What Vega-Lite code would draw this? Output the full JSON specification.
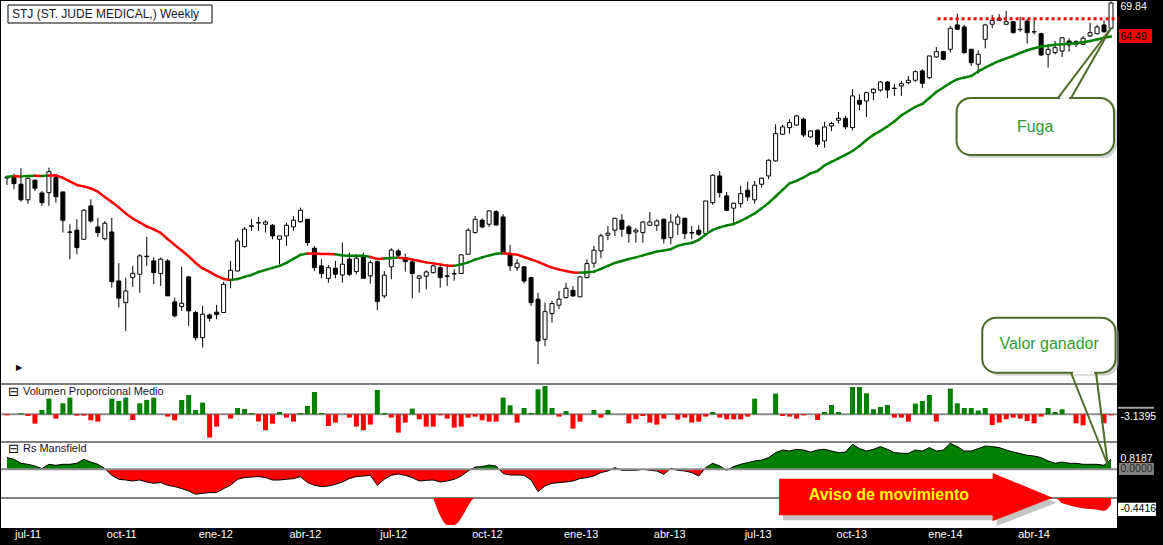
{
  "$schema": "https://vega.github.io/schema/vega-lite/v6.json",
  "background": "black",
  "padding": 0,
  "spacing": 0,
  "bounds": "flush",
  "config": {"view": {"fill": "white", "stroke": null}},
  "resolve": {"scale": {"x": "shared", "y": "independent"}},
  "datasets": {
    "w": [
      {"d":"2011-06-27","o":46.04,"h":46.16,"l":45.29,"c":46.16,"ma":46.19,"t":"g","v":-0.1,"rs":1.17},
      {"d":"2011-07-04","o":46.08,"h":46.52,"l":44.82,"c":45.43,"ma":46.24,"t":"r","v":0,"rs":1.0},
      {"d":"2011-07-11","o":45.36,"h":47.14,"l":43.52,"c":43.71,"ma":46.22,"t":"g","v":0.1,"rs":0.6},
      {"d":"2011-07-18","o":43.71,"h":46.08,"l":43.31,"c":46.02,"ma":46.27,"t":"g","v":-0.17,"rs":0.5},
      {"d":"2011-07-25","o":45.80,"h":45.91,"l":44.64,"c":44.93,"ma":46.30,"t":"r","v":-0.93,"rs":0.33},
      {"d":"2011-08-01","o":44.43,"h":44.64,"l":43.08,"c":43.42,"ma":46.27,"t":"g","v":0.43,"rs":0.07},
      {"d":"2011-08-08","o":44.46,"h":47.19,"l":43.08,"c":46.74,"ma":46.33,"t":"r","v":1.57,"rs":0.5},
      {"d":"2011-08-15","o":46.08,"h":46.27,"l":43.42,"c":44.04,"ma":46.33,"t":"r","v":-0.43,"rs":0.4},
      {"d":"2011-08-22","o":44.54,"h":44.54,"l":40.43,"c":41.63,"ma":46.05,"t":"r","v":1.1,"rs":0.5},
      {"d":"2011-08-29","o":40.49,"h":41.24,"l":37.95,"c":40.45,"ma":45.67,"t":"r","v":1.67,"rs":0.5},
      {"d":"2011-09-05","o":40.66,"h":41.73,"l":38.40,"c":39.01,"ma":45.29,"t":"r","v":-0.13,"rs":0.6},
      {"d":"2011-09-12","o":39.79,"h":42.74,"l":39.79,"c":42.64,"ma":45.13,"t":"r","v":-0.13,"rs":1.0},
      {"d":"2011-09-19","o":43.08,"h":43.77,"l":41.40,"c":41.56,"ma":44.91,"t":"r","v":-0.6,"rs":0.73},
      {"d":"2011-09-26","o":40.98,"h":41.89,"l":40.01,"c":40.43,"ma":44.57,"t":"r","v":-0.73,"rs":0.5},
      {"d":"2011-10-03","o":39.85,"h":41.56,"l":39.70,"c":41.34,"ma":44.01,"t":"r","v":0,"rs":0.07},
      {"d":"2011-10-10","o":40.49,"h":41.89,"l":35.46,"c":35.97,"ma":43.49,"t":"r","v":1.57,"rs":-0.6},
      {"d":"2011-10-17","o":36.03,"h":37.59,"l":33.82,"c":34.58,"ma":42.93,"t":"r","v":1.33,"rs":-1.0},
      {"d":"2011-10-24","o":34.22,"h":36.32,"l":31.99,"c":35.18,"ma":42.32,"t":"r","v":1.67,"rs":-1.07},
      {"d":"2011-10-31","o":36.32,"h":37.35,"l":35.52,"c":36.70,"ma":41.81,"t":"r","v":-0.57,"rs":-1.17},
      {"d":"2011-11-07","o":36.61,"h":38.40,"l":35.04,"c":38.25,"ma":41.41,"t":"r","v":1.1,"rs":-1.07},
      {"d":"2011-11-14","o":38.22,"h":40.01,"l":37.35,"c":38.18,"ma":41.03,"t":"r","v":1.43,"rs":-1.27},
      {"d":"2011-11-21","o":37.79,"h":38.09,"l":35.75,"c":36.75,"ma":40.73,"t":"r","v":1.67,"rs":-1.4},
      {"d":"2011-11-28","o":36.67,"h":38.09,"l":35.61,"c":37.95,"ma":40.40,"t":"r","v":0,"rs":-1.33},
      {"d":"2011-12-05","o":37.79,"h":37.95,"l":34.77,"c":34.77,"ma":39.82,"t":"r","v":-0.23,"rs":-1.6},
      {"d":"2011-12-12","o":34.28,"h":34.63,"l":33.02,"c":33.16,"ma":39.26,"t":"r","v":-0.6,"rs":-1.73},
      {"d":"2011-12-19","o":33.90,"h":37.26,"l":33.55,"c":34.17,"ma":38.74,"t":"r","v":1.43,"rs":-1.93},
      {"d":"2011-12-26","o":36.38,"h":36.47,"l":32.38,"c":33.55,"ma":38.20,"t":"r","v":1.93,"rs":-2.17},
      {"d":"2012-01-02","o":33.42,"h":33.55,"l":31.28,"c":31.48,"ma":37.61,"t":"r","v":0.43,"rs":-2.5},
      {"d":"2012-01-09","o":31.48,"h":33.96,"l":30.74,"c":33.29,"ma":37.12,"t":"r","v":1.17,"rs":-2.4},
      {"d":"2012-01-16","o":33.23,"h":33.34,"l":32.71,"c":32.97,"ma":36.81,"t":"r","v":-2.33,"rs":-2.33},
      {"d":"2012-01-23","o":33.45,"h":34.04,"l":32.89,"c":33.26,"ma":36.47,"t":"r","v":-1.23,"rs":-2.33},
      {"d":"2012-01-30","o":33.42,"h":35.95,"l":33.42,"c":35.75,"ma":36.20,"t":"r","v":0,"rs":-1.93},
      {"d":"2012-02-06","o":36.09,"h":37.79,"l":35.41,"c":36.96,"ma":36.12,"t":"g","v":-0.43,"rs":-1.6},
      {"d":"2012-02-13","o":36.90,"h":39.89,"l":36.84,"c":39.63,"ma":36.20,"t":"g","v":0.63,"rs":-1.0},
      {"d":"2012-02-20","o":39.10,"h":40.98,"l":39.01,"c":40.76,"ma":36.38,"t":"g","v":0.53,"rs":-0.83},
      {"d":"2012-02-27","o":41.08,"h":41.73,"l":40.59,"c":41.04,"ma":36.55,"t":"g","v":0.13,"rs":-0.77},
      {"d":"2012-03-05","o":41.40,"h":41.96,"l":40.59,"c":41.36,"ma":36.81,"t":"g","v":-0.73,"rs":-0.73},
      {"d":"2012-03-12","o":41.24,"h":41.64,"l":40.43,"c":41.46,"ma":36.99,"t":"g","v":-1.6,"rs":-0.83},
      {"d":"2012-03-19","o":41.14,"h":41.24,"l":39.79,"c":40.11,"ma":37.17,"t":"g","v":-0.93,"rs":-1.07},
      {"d":"2012-03-26","o":39.79,"h":40.11,"l":37.50,"c":40.11,"ma":37.35,"t":"g","v":0.23,"rs":-1.07},
      {"d":"2012-04-02","o":40.11,"h":41.40,"l":39.17,"c":41.14,"ma":37.61,"t":"g","v":-0.33,"rs":-1.0},
      {"d":"2012-04-09","o":40.98,"h":42.06,"l":40.59,"c":41.64,"ma":37.97,"t":"g","v":-0.73,"rs":-0.93},
      {"d":"2012-04-16","o":41.49,"h":42.91,"l":41.40,"c":42.64,"ma":38.34,"t":"g","v":0.13,"rs":-0.73},
      {"d":"2012-04-23","o":41.73,"h":41.73,"l":39.17,"c":39.47,"ma":38.47,"t":"r","v":0.83,"rs":-1.33},
      {"d":"2012-04-30","o":38.95,"h":39.17,"l":36.90,"c":37.19,"ma":38.47,"t":"r","v":2.23,"rs":-1.6},
      {"d":"2012-05-07","o":37.35,"h":37.95,"l":36.26,"c":36.67,"ma":38.43,"t":"r","v":0.13,"rs":-1.73},
      {"d":"2012-05-14","o":36.26,"h":37.43,"l":35.89,"c":37.19,"ma":38.43,"t":"r","v":-1.17,"rs":-1.67},
      {"d":"2012-05-21","o":37.14,"h":37.79,"l":36.26,"c":36.61,"ma":38.40,"t":"g","v":-0.83,"rs":-1.5},
      {"d":"2012-05-28","o":36.55,"h":39.47,"l":35.89,"c":37.50,"ma":38.29,"t":"g","v":0,"rs":-1.27},
      {"d":"2012-06-04","o":37.95,"h":38.55,"l":36.47,"c":36.61,"ma":38.27,"t":"g","v":-0.33,"rs":-0.93},
      {"d":"2012-06-11","o":36.84,"h":38.40,"l":36.61,"c":38.04,"ma":38.27,"t":"g","v":-1.23,"rs":-0.73},
      {"d":"2012-06-18","o":38.25,"h":38.55,"l":36.26,"c":36.26,"ma":38.27,"t":"g","v":-1.6,"rs":-0.67},
      {"d":"2012-06-25","o":36.47,"h":37.85,"l":35.80,"c":37.64,"ma":38.15,"t":"r","v":-1.03,"rs":-0.6},
      {"d":"2012-07-02","o":37.73,"h":37.79,"l":33.61,"c":34.30,"ma":37.97,"t":"r","v":2.43,"rs":-1.6},
      {"d":"2012-07-09","o":34.77,"h":36.90,"l":34.58,"c":36.53,"ma":38.02,"t":"g","v":0.13,"rs":-1.0},
      {"d":"2012-07-16","o":37.26,"h":38.95,"l":36.18,"c":38.77,"ma":38.06,"t":"g","v":-0.33,"rs":-0.6},
      {"d":"2012-07-23","o":38.70,"h":38.86,"l":38.15,"c":38.31,"ma":38.09,"t":"r","v":-1.83,"rs":-0.47},
      {"d":"2012-07-30","o":38.09,"h":38.45,"l":36.84,"c":37.73,"ma":38.00,"t":"r","v":-0.83,"rs":-0.6},
      {"d":"2012-08-06","o":37.70,"h":37.79,"l":34.58,"c":36.67,"ma":37.91,"t":"r","v":0.57,"rs":-0.83},
      {"d":"2012-08-13","o":36.26,"h":36.53,"l":35.04,"c":36.47,"ma":37.79,"t":"r","v":-0.5,"rs":-1.17},
      {"d":"2012-08-20","o":36.44,"h":36.96,"l":35.32,"c":36.81,"ma":37.66,"t":"r","v":-1.23,"rs":-1.1},
      {"d":"2012-08-27","o":36.75,"h":37.43,"l":36.67,"c":37.35,"ma":37.57,"t":"r","v":-1.23,"rs":-1.07,"r2":0},
      {"d":"2012-09-03","o":37.19,"h":37.43,"l":35.46,"c":36.32,"ma":37.48,"t":"r","v":-0.1,"rs":-1.27,"r2":-1.77},
      {"d":"2012-09-10","o":36.47,"h":37.35,"l":35.61,"c":36.43,"ma":37.37,"t":"r","v":-0.43,"rs":-1.17,"r2":-2.7},
      {"d":"2012-09-17","o":36.67,"h":37.05,"l":36.05,"c":36.63,"ma":37.35,"t":"g","v":-1.33,"rs":-1.0,"r2":-2.7},
      {"d":"2012-09-24","o":36.67,"h":38.40,"l":36.67,"c":38.34,"ma":37.48,"t":"g","v":-1.23,"rs":-0.67,"r2":-2.03},
      {"d":"2012-10-01","o":38.40,"h":40.85,"l":38.40,"c":40.66,"ma":37.66,"t":"g","v":-0.33,"rs":-0.17,"r2":-0.77},
      {"d":"2012-10-08","o":40.43,"h":42.06,"l":40.33,"c":41.73,"ma":37.91,"t":"g","v":-0.23,"rs":0.23,"r2":0},
      {"d":"2012-10-15","o":41.64,"h":41.83,"l":40.85,"c":40.98,"ma":38.11,"t":"g","v":-0.6,"rs":0.27},
      {"d":"2012-10-22","o":41.24,"h":42.64,"l":40.98,"c":42.57,"ma":38.29,"t":"g","v":-0.73,"rs":0.43},
      {"d":"2012-10-29","o":42.50,"h":42.64,"l":41.08,"c":41.17,"ma":38.45,"t":"g","v":-0.73,"rs":0.33},
      {"d":"2012-11-05","o":41.96,"h":42.24,"l":38.40,"c":38.45,"ma":38.49,"t":"r","v":1.67,"rs":-0.43},
      {"d":"2012-11-12","o":38.45,"h":39.26,"l":36.90,"c":37.35,"ma":38.43,"t":"r","v":0.9,"rs":-0.57},
      {"d":"2012-11-19","o":37.19,"h":37.95,"l":36.90,"c":37.59,"ma":38.36,"t":"r","v":-0.83,"rs":-0.57},
      {"d":"2012-11-26","o":37.26,"h":37.35,"l":35.80,"c":36.03,"ma":38.15,"t":"r","v":0.63,"rs":-0.6},
      {"d":"2012-12-03","o":36.32,"h":36.38,"l":33.96,"c":34.22,"ma":37.93,"t":"r","v":0.13,"rs":-1.07},
      {"d":"2012-12-10","o":34.50,"h":35.04,"l":29.55,"c":31.23,"ma":37.70,"t":"r","v":2.5,"rs":-2.23},
      {"d":"2012-12-17","o":31.36,"h":34.22,"l":30.86,"c":33.49,"ma":37.43,"t":"r","v":2.83,"rs":-1.67},
      {"d":"2012-12-24","o":33.34,"h":34.36,"l":32.63,"c":34.14,"ma":37.19,"t":"r","v":0.63,"rs":-1.4},
      {"d":"2012-12-31","o":34.01,"h":35.18,"l":33.69,"c":34.50,"ma":37.03,"t":"r","v":-0.23,"rs":-1.33},
      {"d":"2013-01-07","o":34.63,"h":35.89,"l":34.58,"c":35.41,"ma":36.90,"t":"r","v":0.33,"rs":-1.27},
      {"d":"2013-01-14","o":35.23,"h":35.61,"l":34.69,"c":34.77,"ma":36.77,"t":"r","v":-1.43,"rs":-1.17},
      {"d":"2013-01-21","o":34.69,"h":36.47,"l":34.69,"c":36.38,"ma":36.75,"t":"g","v":-0.73,"rs":-0.93},
      {"d":"2013-01-28","o":36.32,"h":37.95,"l":36.26,"c":37.55,"ma":36.79,"t":"g","v":0,"rs":-0.83},
      {"d":"2013-02-04","o":37.59,"h":39.17,"l":37.19,"c":38.77,"ma":36.84,"t":"g","v":0.43,"rs":-0.67},
      {"d":"2013-02-11","o":38.70,"h":40.33,"l":38.04,"c":40.11,"ma":37.08,"t":"g","v":-0.33,"rs":-0.33},
      {"d":"2013-02-18","o":40.18,"h":41.08,"l":39.70,"c":40.37,"ma":37.35,"t":"g","v":0.43,"rs":-0.17},
      {"d":"2013-02-25","o":40.66,"h":41.89,"l":40.11,"c":41.83,"ma":37.61,"t":"g","v":0,"rs":0.17},
      {"d":"2013-03-04","o":41.64,"h":42.24,"l":40.01,"c":40.76,"ma":37.79,"t":"g","v":0,"rs":-0.1},
      {"d":"2013-03-11","o":40.98,"h":41.17,"l":39.47,"c":40.33,"ma":37.97,"t":"g","v":-0.9,"rs":-0.1},
      {"d":"2013-03-18","o":40.49,"h":40.85,"l":39.47,"c":40.66,"ma":38.11,"t":"g","v":-0.5,"rs":-0.1},
      {"d":"2013-03-25","o":40.43,"h":41.56,"l":39.47,"c":41.46,"ma":38.29,"t":"g","v":-0.17,"rs":0},
      {"d":"2013-04-01","o":41.14,"h":42.47,"l":41.08,"c":41.46,"ma":38.47,"t":"g","v":-0.83,"rs":-0.1},
      {"d":"2013-04-08","o":41.14,"h":41.73,"l":40.59,"c":41.56,"ma":38.65,"t":"g","v":-1.03,"rs":-0.17},
      {"d":"2013-04-15","o":41.73,"h":41.79,"l":39.38,"c":39.85,"ma":38.74,"t":"g","v":-0.43,"rs":-0.5},
      {"d":"2013-04-22","o":39.95,"h":42.24,"l":39.32,"c":41.46,"ma":38.86,"t":"g","v":0,"rs":0.1},
      {"d":"2013-04-29","o":41.24,"h":42.24,"l":40.21,"c":41.96,"ma":39.17,"t":"g","v":-0.53,"rs":-0.1},
      {"d":"2013-05-06","o":41.83,"h":41.89,"l":39.79,"c":40.33,"ma":39.35,"t":"g","v":-0.33,"rs":-0.17},
      {"d":"2013-05-13","o":40.43,"h":41.08,"l":39.79,"c":40.39,"ma":39.44,"t":"g","v":-0.83,"rs":-0.33},
      {"d":"2013-05-20","o":40.66,"h":41.14,"l":40.11,"c":40.27,"ma":39.73,"t":"g","v":-0.73,"rs":-0.67},
      {"d":"2013-05-27","o":40.33,"h":43.59,"l":40.33,"c":43.59,"ma":40.25,"t":"g","v":-0.23,"rs":0.17},
      {"d":"2013-06-03","o":43.42,"h":46.46,"l":43.18,"c":46.35,"ma":40.69,"t":"g","v":0.23,"rs":0.6},
      {"d":"2013-06-10","o":46.27,"h":46.82,"l":43.94,"c":44.46,"ma":40.93,"t":"g","v":-0.33,"rs":0.33},
      {"d":"2013-06-17","o":44.12,"h":44.54,"l":42.57,"c":42.64,"ma":41.12,"t":"g","v":-0.5,"rs":-0.1},
      {"d":"2013-06-24","o":42.85,"h":43.42,"l":41.24,"c":43.36,"ma":41.27,"t":"g","v":-0.5,"rs":0.27},
      {"d":"2013-07-01","o":43.31,"h":45.18,"l":42.91,"c":44.36,"ma":41.56,"t":"g","v":-0.5,"rs":0.5},
      {"d":"2013-07-08","o":44.72,"h":45.64,"l":43.59,"c":44.01,"ma":41.92,"t":"g","v":-0.23,"rs":0.67},
      {"d":"2013-07-15","o":43.71,"h":45.72,"l":43.31,"c":45.26,"ma":42.32,"t":"g","v":1.57,"rs":0.83},
      {"d":"2013-07-22","o":45.36,"h":46.08,"l":44.99,"c":46.02,"ma":42.83,"t":"g","v":0,"rs":0.93},
      {"d":"2013-07-29","o":46.27,"h":48.15,"l":45.91,"c":48.03,"ma":43.39,"t":"g","v":0,"rs":1.17},
      {"d":"2013-08-05","o":47.95,"h":52.33,"l":47.87,"c":51.17,"ma":44.06,"t":"g","v":2.07,"rs":1.67},
      {"d":"2013-08-12","o":51.10,"h":52.24,"l":51.02,"c":52.00,"ma":44.75,"t":"g","v":-0.17,"rs":1.93},
      {"d":"2013-08-19","o":51.91,"h":52.96,"l":51.17,"c":52.53,"ma":45.45,"t":"g","v":-0.23,"rs":1.83},
      {"d":"2013-08-26","o":52.24,"h":53.50,"l":52.12,"c":53.38,"ma":45.72,"t":"g","v":-0.43,"rs":2.0},
      {"d":"2013-09-02","o":52.96,"h":53.16,"l":50.77,"c":51.02,"ma":46.10,"t":"g","v":-0.1,"rs":1.93},
      {"d":"2013-09-09","o":50.77,"h":51.59,"l":50.69,"c":51.50,"ma":46.55,"t":"g","v":0,"rs":1.73},
      {"d":"2013-09-16","o":51.59,"h":51.71,"l":49.58,"c":49.90,"ma":46.82,"t":"g","v":-0.57,"rs":1.93},
      {"d":"2013-09-23","o":50.29,"h":52.62,"l":49.49,"c":52.00,"ma":47.44,"t":"g","v":0.23,"rs":2.0},
      {"d":"2013-09-30","o":52.12,"h":52.62,"l":51.50,"c":52.41,"ma":47.84,"t":"g","v":0.93,"rs":1.83},
      {"d":"2013-10-07","o":52.83,"h":53.88,"l":52.41,"c":53.08,"ma":48.24,"t":"g","v":0.23,"rs":1.67},
      {"d":"2013-10-14","o":53.08,"h":53.38,"l":51.71,"c":52.00,"ma":48.64,"t":"g","v":0,"rs":1.73},
      {"d":"2013-10-21","o":51.91,"h":56.87,"l":51.59,"c":55.98,"ma":49.10,"t":"g","v":2.73,"rs":2.5},
      {"d":"2013-10-28","o":55.40,"h":56.20,"l":54.10,"c":54.88,"ma":49.69,"t":"g","v":2.73,"rs":2.07},
      {"d":"2013-11-04","o":55.31,"h":56.55,"l":53.25,"c":56.41,"ma":50.41,"t":"g","v":2.1,"rs":1.83},
      {"d":"2013-11-11","o":56.41,"h":57.02,"l":55.40,"c":56.88,"ma":51.02,"t":"g","v":0.5,"rs":2.0},
      {"d":"2013-11-18","o":56.77,"h":58.01,"l":56.55,"c":57.87,"ma":51.50,"t":"g","v":0.73,"rs":2.27},
      {"d":"2013-11-25","o":57.87,"h":58.01,"l":55.67,"c":56.77,"ma":52.06,"t":"g","v":0.93,"rs":2.0},
      {"d":"2013-12-02","o":57.02,"h":57.56,"l":55.98,"c":56.98,"ma":52.68,"t":"g","v":-0.33,"rs":1.67},
      {"d":"2013-12-09","o":57.33,"h":58.01,"l":55.98,"c":57.64,"ma":53.44,"t":"g","v":-0.33,"rs":1.6},
      {"d":"2013-12-16","o":57.78,"h":58.71,"l":57.56,"c":58.11,"ma":54.01,"t":"g","v":-0.73,"rs":1.6},
      {"d":"2013-12-23","o":58.11,"h":59.51,"l":57.91,"c":59.31,"ma":54.53,"t":"g","v":1.07,"rs":1.93},
      {"d":"2013-12-30","o":59.41,"h":59.65,"l":57.02,"c":57.69,"ma":54.92,"t":"g","v":1.33,"rs":1.83},
      {"d":"2014-01-06","o":58.47,"h":61.57,"l":58.25,"c":61.57,"ma":55.71,"t":"g","v":1.93,"rs":2.17},
      {"d":"2014-01-13","o":61.42,"h":62.90,"l":61.32,"c":62.20,"ma":56.50,"t":"g","v":-0.73,"rs":1.83},
      {"d":"2014-01-20","o":62.20,"h":62.30,"l":60.94,"c":61.09,"ma":57.12,"t":"g","v":0,"rs":1.93},
      {"d":"2014-01-27","o":62.56,"h":66.13,"l":62.05,"c":65.77,"ma":57.74,"t":"g","v":2.57,"rs":2.6},
      {"d":"2014-02-03","o":66.29,"h":68.10,"l":65.61,"c":65.61,"ma":58.25,"t":"g","v":1.1,"rs":2.27},
      {"d":"2014-02-10","o":65.97,"h":66.29,"l":61.91,"c":62.05,"ma":58.47,"t":"g","v":0.63,"rs":1.83},
      {"d":"2014-02-17","o":62.56,"h":62.56,"l":60.13,"c":60.60,"ma":58.71,"t":"g","v":0.63,"rs":1.83},
      {"d":"2014-02-24","o":60.37,"h":62.41,"l":59.03,"c":61.82,"ma":59.34,"t":"g","v":0.37,"rs":2.07},
      {"d":"2014-03-03","o":64.06,"h":66.49,"l":62.70,"c":66.29,"ma":59.88,"t":"g","v":0.63,"rs":2.33},
      {"d":"2014-03-10","o":66.40,"h":67.89,"l":65.77,"c":67.03,"ma":60.37,"t":"g","v":-1.07,"rs":2.27},
      {"d":"2014-03-17","o":67.03,"h":68.00,"l":66.92,"c":67.35,"ma":60.84,"t":"g","v":-0.83,"rs":2.17},
      {"d":"2014-03-24","o":66.40,"h":68.53,"l":66.29,"c":66.81,"ma":61.21,"t":"g","v":-0.5,"rs":1.93},
      {"d":"2014-03-31","o":66.81,"h":66.92,"l":64.92,"c":65.08,"ma":61.57,"t":"g","v":-0.33,"rs":1.73},
      {"d":"2014-04-07","o":65.61,"h":67.56,"l":65.23,"c":65.57,"ma":62.01,"t":"g","v":-0.43,"rs":1.57},
      {"d":"2014-04-14","o":66.92,"h":67.21,"l":63.40,"c":65.08,"ma":62.41,"t":"g","v":-0.67,"rs":1.4},
      {"d":"2014-04-21","o":65.23,"h":67.46,"l":64.83,"c":65.19,"ma":62.71,"t":"g","v":-0.9,"rs":1.33},
      {"d":"2014-04-28","o":64.92,"h":65.08,"l":61.57,"c":61.72,"ma":62.98,"t":"g","v":-0.23,"rs":1.17},
      {"d":"2014-05-05","o":61.82,"h":62.90,"l":59.88,"c":62.56,"ma":63.10,"t":"g","v":0.63,"rs":0.83},
      {"d":"2014-05-12","o":62.05,"h":63.80,"l":61.82,"c":62.80,"ma":63.23,"t":"g","v":0.23,"rs":0.6,"r2":0},
      {"d":"2014-05-19","o":62.30,"h":64.42,"l":61.42,"c":64.31,"ma":63.32,"t":"g","v":0.5,"rs":0.73,"r2":-0.5},
      {"d":"2014-05-26","o":63.80,"h":64.22,"l":62.20,"c":63.20,"ma":63.40,"t":"g","v":0,"rs":0.6,"r2":-0.73},
      {"d":"2014-06-02","o":63.31,"h":63.91,"l":62.90,"c":63.70,"ma":63.46,"t":"g","v":-0.9,"rs":0.6,"r2":-0.9},
      {"d":"2014-06-09","o":63.31,"h":64.57,"l":63.20,"c":64.22,"ma":63.61,"t":"g","v":-1.1,"rs":0.5,"r2":-1.03},
      {"d":"2014-06-16","o":64.57,"h":66.65,"l":64.42,"c":65.08,"ma":63.80,"t":"g","v":0,"rs":0.5,"r2":-1.1},
      {"d":"2014-06-23","o":64.92,"h":66.29,"l":64.83,"c":65.97,"ma":64.03,"t":"g","v":0,"rs":0.5,"r2":-1.17},
      {"d":"2014-06-30","o":66.29,"h":67.03,"l":65.08,"c":65.23,"ma":64.29,"t":"g","v":-0.9,"rs":0.4,"r2":-1.27},
      {"d":"2014-07-07","o":65.77,"h":70.1,"l":65.61,"c":69.84,"ma":64.49,"t":"g","v":-0.1,"rs":1.0,"r2":-0.67}
    ]
  },
  "data": {"name": "w"},
  "vconcat": [
    {
      "width": 1116,
      "height": 383,
      "layer": [
        {
          "data": {"values": [{"a": "2014-07-13", "b": "2014-08-29", "p": 28.19, "q": 70.18}]},
          "mark": {"type": "rect", "color": "black"},
          "encoding": {
            "x": {"field": "a", "type": "temporal", "axis": null,
                  "scale": {"type": "utc", "nice": false, "padding": 0, "domain": [{"year": 2011, "month": 6, "date": 21, "utc": true}, {"year": 2014, "month": 7, "date": 13, "utc": true}]}},
            "x2": {"field": "b"},
            "y": {"field": "p", "type": "quantitative", "axis": null, "scale": {"type": "log", "domain": [28.19, 70.18], "nice": false, "zero": false}},
            "y2": {"field": "q"}
          }
        },
        {
          "data": {"values": [{"a": "2011-06-28", "b": "2012-01-18T10:00:00Z", "p": 66.6, "q": 69.51}]},
          "mark": {"type": "rect", "fill": "white", "stroke": "black", "strokeWidth": 1},
          "encoding": {
            "x": {"field": "a", "type": "temporal", "axis": null}, "x2": {"field": "b"},
            "y": {"field": "p", "type": "quantitative", "axis": null}, "y2": {"field": "q"}
          }
        },
        {
          "data": {"values": [{"a": "2011-07-02", "p": 68.04, "s": "STJ (ST. JUDE MEDICAL,) Weekly"}]},
          "mark": {"type": "text", "align": "left", "baseline": "middle", "font": "Liberation Sans", "fontSize": 12, "color": "#141428"},
          "encoding": {
            "x": {"field": "a", "type": "temporal", "axis": null},
            "y": {"field": "p", "type": "quantitative", "axis": null},
            "text": {"field": "s"}
          }
        },
        {
          "mark": {"type": "rule", "color": "black", "strokeWidth": 1},
          "encoding": {
            "x": {"field": "d", "type": "temporal", "axis": null},
            "y": {"field": "l", "type": "quantitative", "axis": null},
            "y2": {"field": "h"}
          }
        },
        {
          "mark": {"type": "bar", "width": 4, "stroke": "black", "strokeWidth": 1},
          "encoding": {
            "x": {"field": "d", "type": "temporal", "axis": null},
            "y": {"field": "o", "type": "quantitative", "axis": null},
            "y2": {"field": "c"},
            "fill": {"condition": {"test": "datum.c >= datum.o", "value": "white"}, "value": "black"}
          }
        },
        {
          "transform": [
            {"window": [{"op": "lead", "field": "ma", "as": "ma2"}, {"op": "lead", "field": "d", "as": "d2"}], "sort": [{"field": "d", "order": "ascending"}]},
            {"filter": "datum.ma2 != null"}
          ],
          "mark": {"type": "rule", "strokeWidth": 2.5, "strokeCap": "round"},
          "encoding": {
            "x": {"field": "d", "type": "temporal", "axis": null},
            "x2": {"field": "d2"},
            "y": {"field": "ma", "type": "quantitative", "axis": null},
            "y2": {"field": "ma2"},
            "color": {"condition": {"test": "datum.t == 'r'", "value": "#ff0000"}, "value": "#008000"}
          }
        },
        {
          "data": {"values": [{"a": "2014-01-14T07:00:00Z", "b": "2014-07-14T12:00:00Z", "p": 67.28}]},
          "mark": {"type": "rule", "color": "#ff0000", "strokeWidth": 3, "strokeDash": [3, 3]},
          "encoding": {
            "x": {"field": "a", "type": "temporal", "axis": null}, "x2": {"field": "b"},
            "y": {"field": "p", "type": "quantitative", "axis": null}
          }
        },
        {
          "data": {"values": [{"a": "2014-02-05T07:00:00Z", "b": "2014-07-13", "p": 48.29, "q": 55.31}]},
          "mark": {"type": "rect", "fill": "#a8a8a8", "opacity": 0.5, "cornerRadius": 14},
          "encoding": {
            "x": {"field": "a", "type": "temporal", "axis": null}, "x2": {"field": "b"},
            "y": {"field": "p", "type": "quantitative", "axis": null}, "y2": {"field": "q"}
          }
        },
        {
          "data": {"values": [{"a": "2014-02-02T07:00:00Z", "b": "2014-07-10", "p": 48.64, "q": 55.71}]},
          "mark": {"type": "rect", "fill": "white", "stroke": "#4f6b28", "strokeWidth": 2, "cornerRadius": 14},
          "encoding": {
            "x": {"field": "a", "type": "temporal", "axis": null}, "x2": {"field": "b"},
            "y": {"field": "p", "type": "quantitative", "axis": null}, "y2": {"field": "q"}
          }
        },
        {
          "data": {"values": [{"a": "2014-05-17", "b": "2014-05-26", "p": 55.71}]},
          "mark": {"type": "rule", "color": "white", "strokeWidth": 3},
          "encoding": {
            "x": {"field": "a", "type": "temporal", "axis": null}, "x2": {"field": "b"},
            "y": {"field": "p", "type": "quantitative", "axis": null}
          }
        },
        {
          "data": {"values": [
            {"a": "2014-05-15", "b": "2014-07-07", "p": 55.71, "q": 65.81},
            {"a": "2014-05-28", "b": "2014-07-07", "p": 55.71, "q": 65.81}
          ]},
          "mark": {"type": "rule", "color": "#4f6b28", "strokeWidth": 2},
          "encoding": {
            "x": {"field": "a", "type": "temporal", "axis": null}, "x2": {"field": "b"},
            "y": {"field": "p", "type": "quantitative", "axis": null}, "y2": {"field": "q"}
          }
        },
        {
          "data": {"values": [{"a": "2014-04-22", "p": 51.99, "s": "Fuga"}]},
          "mark": {"type": "text", "align": "center", "baseline": "middle", "font": "Liberation Sans", "fontSize": 16, "color": "#339933"},
          "encoding": {
            "x": {"field": "a", "type": "temporal", "axis": null},
            "y": {"field": "p", "type": "quantitative", "axis": null},
            "text": {"field": "s"}
          }
        },
        {
          "data": {"values": [{"a": "2014-07-15", "b": "2014-08-17", "p": 63.5, "q": 65.65}]},
          "mark": {"type": "rect", "fill": "#ff0000"},
          "encoding": {
            "x": {"field": "a", "type": "temporal", "axis": null}, "x2": {"field": "b"},
            "y": {"field": "p", "type": "quantitative", "axis": null}, "y2": {"field": "q"}
          }
        },
        {
          "data": {"values": [{"a": "2014-07-16T12:00:00Z", "p": 64.49, "s": "64.49"}]},
          "mark": {"type": "text", "align": "left", "baseline": "middle", "font": "Liberation Sans", "fontSize": 10.5, "color": "black"},
          "encoding": {
            "x": {"field": "a", "type": "temporal", "axis": null},
            "y": {"field": "p", "type": "quantitative", "axis": null},
            "text": {"field": "s"}
          }
        },
        {
          "data": {"values": [{"a": "2014-07-16T12:00:00Z", "p": 69.84, "s": "69.84"}]},
          "mark": {"type": "text", "align": "left", "baseline": "top", "dy": -1, "font": "Liberation Sans", "fontSize": 10.5, "color": "white"},
          "encoding": {
            "x": {"field": "a", "type": "temporal", "axis": null},
            "y": {"field": "p", "type": "quantitative", "axis": null},
            "text": {"field": "s"}
          }
        },
        {
          "data": {"values": [{"a": "2011-07-09", "p": 29.29, "s": "▶"}]},
          "mark": {"type": "text", "align": "center", "baseline": "middle", "font": "DejaVu Sans", "fontSize": 8, "color": "black"},
          "encoding": {
            "x": {"field": "a", "type": "temporal", "axis": null},
            "y": {"field": "p", "type": "quantitative", "axis": null},
            "text": {"field": "s"}
          }
        }
      ]
    },
    {
      "width": 1116,
      "height": 58,
      "layer": [
        {
          "data": {"values": [{}]},
          "mark": {"type": "rule", "color": "black", "strokeWidth": 1},
          "encoding": {"y": {"datum": 3.03, "type": "quantitative", "axis": null, "scale": {"domain": [-2.77, 3.03], "nice": false, "zero": false}}}
        },
        {
          "data": {"values": [{}]},
          "mark": {"type": "rule", "color": "#8c8c8c", "strokeWidth": 2},
          "encoding": {"y": {"datum": 0, "type": "quantitative", "axis": null}}
        },
        {
          "mark": {"type": "bar", "width": 5},
          "encoding": {
            "x": {"field": "d", "type": "temporal", "axis": null},
            "y": {"field": "v", "type": "quantitative", "axis": null},
            "y2": {"datum": 0},
            "color": {"condition": {"test": "datum.v < 0", "value": "#ff0000"}, "value": "#008000"}
          }
        },
        {
          "data": {"values": [{"a": "2011-07-03T12:00:00Z", "p": 2.23, "s": "⊟"}]},
          "mark": {"type": "text", "align": "center", "baseline": "middle", "font": "DejaVu Sans", "fontSize": 13, "color": "black"},
          "encoding": {
            "x": {"field": "a", "type": "temporal", "axis": null},
            "y": {"field": "p", "type": "quantitative", "axis": null},
            "text": {"field": "s"}
          }
        },
        {
          "data": {"values": [{"a": "2011-07-13", "p": 2.23, "s": "Volumen Proporcional Medio"}]},
          "mark": {"type": "text", "align": "left", "baseline": "middle", "font": "Liberation Sans", "fontSize": 11, "color": "#141428"},
          "encoding": {
            "x": {"field": "a", "type": "temporal", "axis": null},
            "y": {"field": "p", "type": "quantitative", "axis": null},
            "text": {"field": "s"}
          }
        },
        {
          "data": {"values": [{"a": "2014-07-14", "b": "2014-08-19", "p": 0.66}]},
          "mark": {"type": "rule", "color": "#a0a0a0", "strokeWidth": 2},
          "encoding": {
            "x": {"field": "a", "type": "temporal", "axis": null}, "x2": {"field": "b"},
            "y": {"field": "p", "type": "quantitative", "axis": null}
          }
        },
        {
          "data": {"values": [{"a": "2014-07-16T12:00:00Z", "p": -0.27, "s": "-3.1395"}]},
          "mark": {"type": "text", "align": "left", "baseline": "middle", "font": "Liberation Sans", "fontSize": 10.5, "color": "white"},
          "encoding": {
            "x": {"field": "a", "type": "temporal", "axis": null},
            "y": {"field": "p", "type": "quantitative", "axis": null},
            "text": {"field": "s"}
          }
        }
      ]
    },
    {
      "width": 1116,
      "height": 56,
      "layer": [
        {
          "data": {"values": [{}]},
          "mark": {"type": "rule", "color": "black", "strokeWidth": 1},
          "encoding": {"y": {"datum": 2.73, "type": "quantitative", "axis": null, "scale": {"domain": [-2.87, 2.73], "nice": false, "zero": false}}}
        },
        {
          "mark": {"type": "area", "fill": {"gradient": "linear", "x1": 0, "y1": 0, "x2": 0, "y2": 1,
            "stops": [{"offset": 0, "color": "#008000"}, {"offset": 0.5098, "color": "#008000"}, {"offset": 0.5098, "color": "#ff0000"}, {"offset": 1, "color": "#ff0000"}]}},
          "encoding": {
            "x": {"field": "d", "type": "temporal", "axis": null},
            "y": {"field": "rs", "type": "quantitative", "axis": null},
            "y2": {"datum": 0}
          }
        },
        {
          "mark": {"type": "line", "color": "black", "strokeWidth": 1},
          "encoding": {
            "x": {"field": "d", "type": "temporal", "axis": null},
            "y": {"field": "rs", "type": "quantitative", "axis": null}
          }
        },
        {
          "data": {"values": [{}]},
          "mark": {"type": "rule", "color": "#8c8c8c", "strokeWidth": 2},
          "encoding": {"y": {"datum": 0, "type": "quantitative", "axis": null}}
        },
        {
          "data": {"values": [{"a": "2011-07-03T12:00:00Z", "p": 2.03, "s": "⊟"}]},
          "mark": {"type": "text", "align": "center", "baseline": "middle", "font": "DejaVu Sans", "fontSize": 13, "color": "black"},
          "encoding": {
            "x": {"field": "a", "type": "temporal", "axis": null},
            "y": {"field": "p", "type": "quantitative", "axis": null},
            "text": {"field": "s"}
          }
        },
        {
          "data": {"values": [{"a": "2011-07-13", "p": 2.03, "s": "Rs Mansfield"}]},
          "mark": {"type": "text", "align": "left", "baseline": "middle", "font": "Liberation Sans", "fontSize": 11, "color": "#141428"},
          "encoding": {
            "x": {"field": "a", "type": "temporal", "axis": null},
            "y": {"field": "p", "type": "quantitative", "axis": null},
            "text": {"field": "s"}
          }
        },
        {
          "data": {"values": [{"a": "2014-07-16T12:00:00Z", "p": 1.0, "s": "0.8187"}]},
          "mark": {"type": "text", "align": "left", "baseline": "middle", "font": "Liberation Sans", "fontSize": 10.5, "color": "white"},
          "encoding": {
            "x": {"field": "a", "type": "temporal", "axis": null},
            "y": {"field": "p", "type": "quantitative", "axis": null},
            "text": {"field": "s"}
          }
        },
        {
          "data": {"values": [{"a": "2014-07-15", "b": "2014-08-19", "p": -0.57, "q": 0.63}]},
          "mark": {"type": "rect", "fill": "#808080"},
          "encoding": {
            "x": {"field": "a", "type": "temporal", "axis": null}, "x2": {"field": "b"},
            "y": {"field": "p", "type": "quantitative", "axis": null}, "y2": {"field": "q"}
          }
        },
        {
          "data": {"values": [{"a": "2014-07-16T12:00:00Z", "p": 0.03, "s": "0.0000"}]},
          "mark": {"type": "text", "align": "left", "baseline": "middle", "font": "Liberation Sans", "fontSize": 10.5, "color": "#2a2a2a"},
          "encoding": {
            "x": {"field": "a", "type": "temporal", "axis": null},
            "y": {"field": "p", "type": "quantitative", "axis": null},
            "text": {"field": "s"}
          }
        },
        {
          "data": {"values": [{"a": "2014-03-03", "b": "2014-07-15", "p": 9.36, "q": 14.86}]},
          "mark": {"type": "rect", "fill": "#a8a8a8", "opacity": 0.5, "cornerRadius": 14},
          "encoding": {
            "x": {"field": "a", "type": "temporal", "axis": null}, "x2": {"field": "b"},
            "y": {"field": "p", "type": "quantitative", "axis": null}, "y2": {"field": "q"}
          }
        },
        {
          "data": {"values": [{"a": "2014-02-28", "b": "2014-07-11T12:00:00Z", "p": 9.66, "q": 15.16}]},
          "mark": {"type": "rect", "fill": "white", "stroke": "#4f6b28", "strokeWidth": 2, "cornerRadius": 14},
          "encoding": {
            "x": {"field": "a", "type": "temporal", "axis": null}, "x2": {"field": "b"},
            "y": {"field": "p", "type": "quantitative", "axis": null}, "y2": {"field": "q"}
          }
        },
        {
          "data": {"values": [{"a": "2014-05-30", "b": "2014-06-20", "p": 9.66}]},
          "mark": {"type": "rule", "color": "white", "strokeWidth": 3},
          "encoding": {
            "x": {"field": "a", "type": "temporal", "axis": null}, "x2": {"field": "b"},
            "y": {"field": "p", "type": "quantitative", "axis": null}
          }
        },
        {
          "data": {"values": [
            {"a": "2014-05-28", "b": "2014-07-03T19:00:00Z", "p": 9.63, "q": 0.43},
            {"a": "2014-06-22", "b": "2014-07-03T19:00:00Z", "p": 9.63, "q": 0.43}
          ]},
          "mark": {"type": "rule", "color": "#4f6b28", "strokeWidth": 2},
          "encoding": {
            "x": {"field": "a", "type": "temporal", "axis": null}, "x2": {"field": "b"},
            "y": {"field": "p", "type": "quantitative", "axis": null}, "y2": {"field": "q"}
          }
        },
        {
          "data": {"values": [{"a": "2014-05-06", "p": 12.53, "s": "Valor ganador"}]},
          "mark": {"type": "text", "align": "center", "baseline": "middle", "font": "Liberation Sans", "fontSize": 16, "color": "#339933"},
          "encoding": {
            "x": {"field": "a", "type": "temporal", "axis": null},
            "y": {"field": "p", "type": "quantitative", "axis": null},
            "text": {"field": "s"}
          }
        }
      ]
    },
    {
      "width": 1116,
      "height": 31,
      "layer": [
        {
          "data": {"values": [{"a": "2011-06-21", "b": "2014-07-13", "p": -4.8, "q": -3.0}]},
          "mark": {"type": "rect", "color": "black"},
          "encoding": {
            "x": {"field": "a", "type": "temporal", "axis": null,
                  "scale": {"type": "utc", "nice": false, "padding": 0, "domain": [{"year": 2011, "month": 6, "date": 21, "utc": true}, {"year": 2014, "month": 7, "date": 13, "utc": true}]}},
            "x2": {"field": "b"},
            "y": {"field": "p", "type": "quantitative", "axis": null, "scale": {"domain": [-3.1, 0], "nice": false, "zero": false}},
            "y2": {"field": "q"}
          }
        },
        {
          "data": {"values": [
            {"a": "2011-07-01", "s": "jul-11"}, {"a": "2011-10-01", "s": "oct-11"},
            {"a": "2012-01-01", "s": "ene-12"}, {"a": "2012-04-01", "s": "abr-12"},
            {"a": "2012-07-01", "s": "jul-12"}, {"a": "2012-10-01", "s": "oct-12"},
            {"a": "2013-01-01", "s": "ene-13"}, {"a": "2013-04-01", "s": "abr-13"},
            {"a": "2013-07-01", "s": "jul-13"}, {"a": "2013-10-01", "s": "oct-13"},
            {"a": "2014-01-01", "s": "ene-14"}, {"a": "2014-04-01", "s": "abr-14"}
          ]},
          "mark": {"type": "text", "align": "left", "baseline": "middle", "dx": 4, "font": "Liberation Sans", "fontSize": 11, "color": "white"},
          "encoding": {
            "x": {"field": "a", "type": "temporal", "axis": null},
            "y": {"datum": -3.7, "type": "quantitative", "axis": null},
            "text": {"field": "s"}
          }
        },
        {
          "data": {"values": [{}]},
          "mark": {"type": "rule", "color": "black", "strokeWidth": 1},
          "encoding": {"y": {"datum": 0, "type": "quantitative", "axis": null}}
        },
        {
          "transform": [{"filter": "isValid(datum.r2)"}],
          "mark": {"type": "area", "color": "#ff0000", "interpolate": "monotone"},
          "encoding": {
            "x": {"field": "d", "type": "temporal", "axis": null},
            "y": {"field": "r2", "type": "quantitative", "axis": null},
            "y2": {"datum": 0}
          }
        },
        {
          "data": {"values": [
            {"x": "2013-08-12T12:00:00Z", "t": 1.43, "b": -2.23},
            {"x": "2014-03-14T10:00:00Z", "t": 1.43, "b": -2.23},
            {"x": "2014-03-14T11:00:00Z", "t": 2.0, "b": -2.8},
            {"x": "2014-05-13T12:00:00Z", "t": -0.47, "b": -0.47}
          ]},
          "mark": {"type": "area", "color": "#7a7a7a", "opacity": 0.45},
          "encoding": {
            "x": {"field": "x", "type": "temporal", "axis": null},
            "y": {"field": "t", "type": "quantitative", "axis": null},
            "y2": {"field": "b"}
          }
        },
        {
          "data": {"values": [
            {"x": "2013-08-08T12:00:00Z", "t": 1.93, "b": -1.73},
            {"x": "2014-03-10T10:00:00Z", "t": 1.93, "b": -1.73},
            {"x": "2014-03-10T11:00:00Z", "t": 2.5, "b": -2.3},
            {"x": "2014-05-09T12:00:00Z", "t": 0.03, "b": 0.03}
          ]},
          "mark": {"type": "area", "color": "#ff0000", "opacity": 1},
          "encoding": {
            "x": {"field": "x", "type": "temporal", "axis": null},
            "y": {"field": "t", "type": "quantitative", "axis": null},
            "y2": {"field": "b"}
          }
        },
        {
          "data": {"values": [{"a": "2013-11-26T12:00:00Z", "p": 0.3, "s": "Aviso de movimiento"}]},
          "mark": {"type": "text", "align": "center", "baseline": "middle", "font": "Liberation Sans", "fontSize": 16, "fontWeight": "bold", "color": "#ffff00"},
          "encoding": {
            "x": {"field": "a", "type": "temporal", "axis": null},
            "y": {"field": "p", "type": "quantitative", "axis": null},
            "text": {"field": "s"}
          }
        },
        {
          "data": {"values": [{"a": "2014-07-14", "b": "2014-08-21", "p": -1.8, "q": -0.47}]},
          "mark": {"type": "rect", "fill": "white"},
          "encoding": {
            "x": {"field": "a", "type": "temporal", "axis": null}, "x2": {"field": "b"},
            "y": {"field": "p", "type": "quantitative", "axis": null}, "y2": {"field": "q"}
          }
        },
        {
          "data": {"values": [{"a": "2014-07-16T12:00:00Z", "p": -1.1, "s": "-0.4416"}]},
          "mark": {"type": "text", "align": "left", "baseline": "middle", "font": "Liberation Sans", "fontSize": 10.5, "color": "black"},
          "encoding": {
            "x": {"field": "a", "type": "temporal", "axis": null},
            "y": {"field": "p", "type": "quantitative", "axis": null},
            "text": {"field": "s"}
          }
        }
      ]
    }
  ]
}
